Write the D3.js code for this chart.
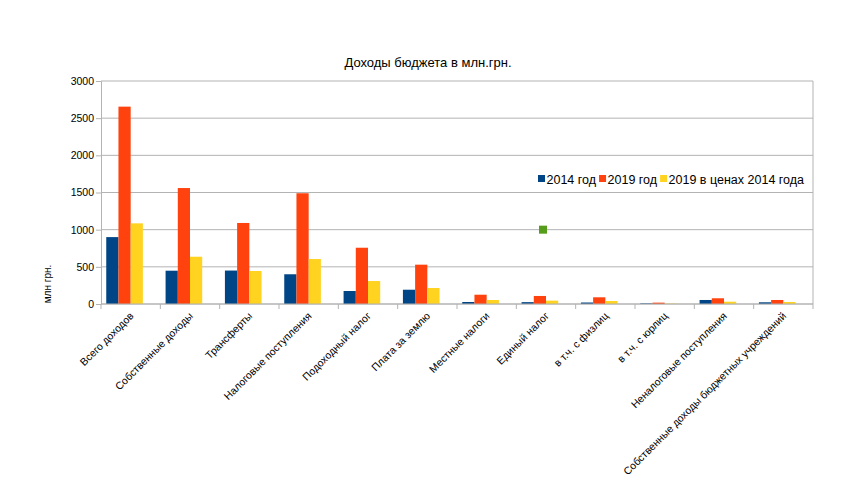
<!DOCTYPE html>
<html lang="ru">
<head>
    <meta charset="UTF-8">
    <title>Доходы бюджета</title>
    <style>
        body {
            margin: 0;
            background: #fff;
            font-family: "Liberation Sans", Arial, sans-serif;
        }
        #chart {
            width: 851px;
            height: 500px;
        }
    </style>
</head>
<body>
    <div id="chart"></div>
    <script src="https://d3js.org/d3.v7.min.js"></script>
    <script>
        // data (млн грн.)
        var categories = ["Всего доходов", "Собственные доходы", "Трансферты", "Налоговые поступления",
            "Подоходный налог", "Плата за землю", "Местные налоги", "Единый налог",
            "в т.ч. с физлиц", "в т.ч. с юрлиц", "Неналоговые поступления",
            "Собственные доходы бюджетных учреждений"];
        var seriesNames = ["2014 год", "2019 год", "2019 в ценах 2014 года"];
        var values2014 = [900, 448, 450, 400, 175, 192, 27, 25, 20, 8, 54, 23];
        var values2019 = [2655, 1560, 1090, 1490, 757, 529, 125, 108, 90, 18, 77, 54];
        var values2019in2014 = [1085, 636, 444, 605, 309, 215, 54, 45, 40, 5, 31, 27];
        var markerCategory = "Единый налог";
        var markerValue = 1000;
        var yTicks = [0, 500, 1000, 1500, 2000, 2500, 3000];

        var colors = ["#004586", "#ff420e", "#ffd320"];
        var markerColor = "#579d1c";

        var margin = {top: 81, right: 38, bottom: 196, left: 101},
            width = 851,
            height = 500;

        var svg = d3.select("#chart")
            .append("svg")
            .attr("width", width)
            .attr("height", height);

        var x0 = d3.scaleBand()
            .domain(categories)
            .range([margin.left, width - margin.right])
            .padding(0);

        // four slots per category, the last one stays empty (like the original)
        var x1 = d3.scaleBand()
            .domain([0, 1, 2, 3])
            .range([0, x0.bandwidth()])
            .paddingInner(0)
            .paddingOuter(0.43);

        var y = d3.scaleLinear()
            .domain([0, 3000])
            .range([height - margin.bottom, margin.top]);

        // grid
        svg.append("g")
            .selectAll("line")
            .data(yTicks)
            .enter()
            .append("line")
            .attr("x1", margin.left)
            .attr("x2", width - margin.right)
            .attr("y1", d => y(d))
            .attr("y2", d => y(d))
            .attr("stroke", "#b3b3b3")
            .attr("stroke-width", 1);

        // right border
        svg.append("line")
            .attr("x1", width - margin.right)
            .attr("x2", width - margin.right)
            .attr("y1", y(3000))
            .attr("y2", y(0))
            .attr("stroke", "#b3b3b3");

        // bars
        var table = categories.map((c, i) => ({
            cat: c,
            vals: [values2014[i], values2019[i], values2019in2014[i]]
        }));

        var groups = svg.append("g")
            .selectAll("g")
            .data(table)
            .enter()
            .append("g")
            .attr("transform", d => "translate(" + x0(d.cat) + ",0)");

        groups.selectAll("rect")
            .data(d => d.vals)
            .enter()
            .append("rect")
            .attr("x", (d, i) => x1(i))
            .attr("y", d => y(d))
            .attr("width", x1.bandwidth())
            .attr("height", d => y(0) - y(d))
            .attr("fill", (d, i) => colors[i]);

        // green point
        svg.append("rect")
            .attr("x", x0(markerCategory) + x0.bandwidth() / 2 - 4 - 3)
            .attr("y", y(markerValue) - 4)
            .attr("width", 8)
            .attr("height", 8)
            .attr("fill", markerColor);

        // axes
        var yAxis = d3.axisLeft(y)
            .tickValues(yTicks)
            .tickFormat(d3.format("d"))
            .tickSize(5)
            .tickPadding(2);

        var gy = svg.append("g")
            .attr("transform", "translate(" + margin.left + ",0)")
            .call(yAxis);
        gy.selectAll("path, line").attr("stroke", "#b3b3b3");
        gy.selectAll("text")
            .style("font-family", "'Liberation Sans', Arial, sans-serif")
            .style("font-size", "10.5px")
            .attr("fill", "#000");

        var gx = svg.append("g")
            .attr("transform", "translate(0," + y(0) + ")");
        gx.append("line")
            .attr("x1", margin.left)
            .attr("x2", width - margin.right)
            .attr("stroke", "#b3b3b3");
        gx.selectAll(".tick")
            .data(categories.concat([null]))
            .enter()
            .append("line")
            .attr("x1", (d, i) => d ? x0(d) : width - margin.right)
            .attr("x2", (d, i) => d ? x0(d) : width - margin.right)
            .attr("y1", 0)
            .attr("y2", 5)
            .attr("stroke", "#b3b3b3");

        gx.selectAll("text")
            .data(categories)
            .enter()
            .append("text")
            .attr("transform", d => "translate(" + (x0(d) + x0.bandwidth() / 2 + 1) + ",10) rotate(-45)")
            .attr("dy", "0.35em")
            .style("text-anchor", "end")
            .style("font-family", "'Liberation Sans', Arial, sans-serif")
            .style("font-size", "10.5px")
            .text(d => d);

        // y title
        svg.append("text")
            .attr("transform", "translate(51,284) rotate(-90)")
            .style("text-anchor", "middle")
            .style("font-family", "'Liberation Sans', Arial, sans-serif")
            .style("font-size", "10px")
            .text("млн грн.");

        // title
        svg.append("text")
            .attr("x", 428)
            .attr("y", 67)
            .style("text-anchor", "middle")
            .style("font-family", "'Liberation Sans', Arial, sans-serif")
            .style("font-size", "13px")
            .text("Доходы бюджета в млн.грн.");

        // legend
        var legend = svg.append("g")
            .attr("transform", "translate(538,179)");
        var lx = 0;
        seriesNames.forEach(function(name, i) {
            legend.append("rect")
                .attr("x", lx)
                .attr("y", -4)
                .attr("width", 7)
                .attr("height", 7)
                .attr("fill", colors[i]);
            var t = legend.append("text")
                .attr("x", lx + 8.5)
                .attr("y", 4.5)
                .style("font-family", "'Liberation Sans', Arial, sans-serif")
                .style("font-size", "12.5px")
                .text(name);
            lx += 8.5 + t.node().getComputedTextLength() + 3;
        });
    </script>
</body>
</html>
